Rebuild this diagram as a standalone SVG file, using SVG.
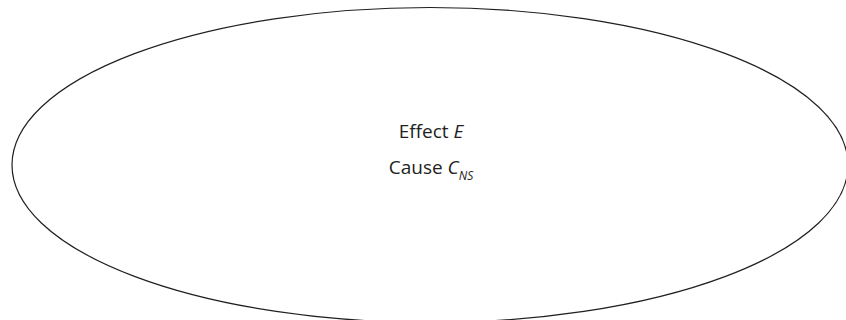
<svg xmlns="http://www.w3.org/2000/svg" width="846" height="320" viewBox="0 0 846 320">
<style>
.t{font-family:"Open Sans","Noto Sans",sans-serif;font-size:19px;fill:#231f20}
.sub{font-size:12px}
</style>
<rect width="846" height="320" fill="#fff"/>
<g id="ellipse">
<ellipse cx="430" cy="165" rx="418" ry="157.5" fill="none" stroke="#231f20" stroke-width="1.2"/>
</g>
<g id="effect">
<text class="t" x="431" y="138" text-anchor="middle">Effect <tspan font-style="italic">E</tspan></text>
</g>
<g id="cause">
<text class="t" x="431" y="174" text-anchor="middle">Cause <tspan font-style="italic">C</tspan><tspan class="sub" font-style="italic" dy="6">NS</tspan></text>
</g>
</svg>
